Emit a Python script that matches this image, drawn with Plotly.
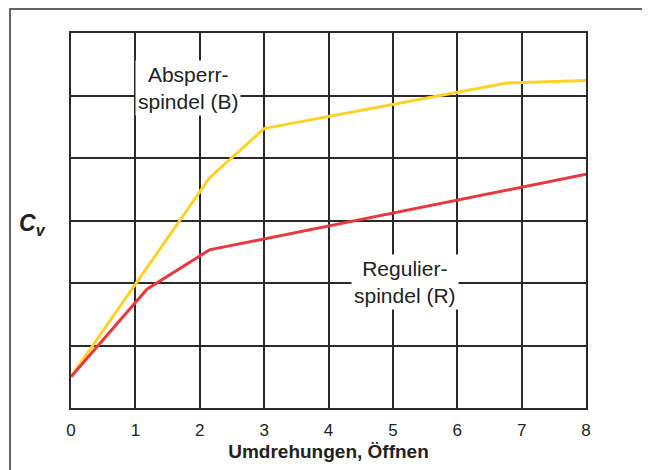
import plotly.graph_objects as go

# Data (x: Umdrehungen, y: Cv in grid units)
absperr_x = [0, 2.15, 3.0, 6.77, 8.0]
absperr_y = [0.5, 3.68, 4.47, 5.2, 5.24]
regulier_x = [0, 1.18, 2.15, 8.0]
regulier_y = [0.5, 1.9, 2.53, 3.74]
x_ticks = [0, 1, 2, 3, 4, 5, 6, 7, 8]
x_ticklabels = ["0", "1", "2", "3", "4", "5", "6", "7", "8"]
y_grid = [0, 1, 2, 3, 4, 5, 6]

FONT = "Liberation Sans, Arial, Helvetica, sans-serif"
GRID = "#2a2a2a"

fig = go.Figure()
fig.add_trace(go.Scatter(x=absperr_x, y=absperr_y, mode="lines",
                         line=dict(color="#FDD225", width=3), name="Absperrspindel (B)"))
fig.add_trace(go.Scatter(x=regulier_x, y=regulier_y, mode="lines",
                         line=dict(color="#E8373F", width=3), name="Regulierspindel (R)"))

fig.update_layout(
    width=642, height=462,
    margin=dict(l=63, r=64, t=25, b=62),
    paper_bgcolor="white", plot_bgcolor="white",
    showlegend=False,
    font=dict(family=FONT, color="#222"),
    xaxis=dict(range=[0, 8], tickvals=x_ticks, ticktext=x_ticklabels,
               showgrid=True, gridcolor=GRID, gridwidth=1.5,
               showline=True, linecolor=GRID, linewidth=1.5, mirror=True,
               zeroline=False, ticks="outside", ticklen=6, tickcolor="white",
               tickfont=dict(size=17, color="#222"),
               title=dict(text="<b>Umdrehungen, Öffnen</b>", font=dict(size=19, color="#222"),
                          standoff=6)),
    yaxis=dict(range=[0, 6], tickvals=y_grid, showticklabels=False,
               showgrid=True, gridcolor=GRID, gridwidth=1.5,
               showline=True, linecolor=GRID, linewidth=1.5, mirror=True,
               zeroline=False, ticks=""),
)

fig.add_annotation(x=1.82, y=5.12, xref="x", yref="y",
                   text="Absperr-<br>spindel (B)", showarrow=False,
                   font=dict(size=21, color="#222", family=FONT),
                   bgcolor="white", align="center", borderpad=2)
fig.add_annotation(x=5.19, y=2.02, xref="x", yref="y",
                   text="Regulier-<br>spindel (R)", showarrow=False,
                   font=dict(size=21, color="#222", family=FONT),
                   bgcolor="white", align="center", borderpad=2)
fig.add_annotation(x=-0.074, y=0.49, xref="paper", yref="paper",
                   xanchor="center", yanchor="middle",
                   text="<b><i>C<sub>v</sub></i></b>", showarrow=False,
                   font=dict(size=23, color="#222", family=FONT))

# outer frame
fig.add_shape(type="rect", xref="paper", yref="paper",
              x0=(2 - 63) / 515, x1=(636 - 63) / 515,
              y0=-0.2, y1=(400 - 1) / 375,
              line=dict(color="#333", width=1.5), layer="below")

fig.write_html("out.html")
